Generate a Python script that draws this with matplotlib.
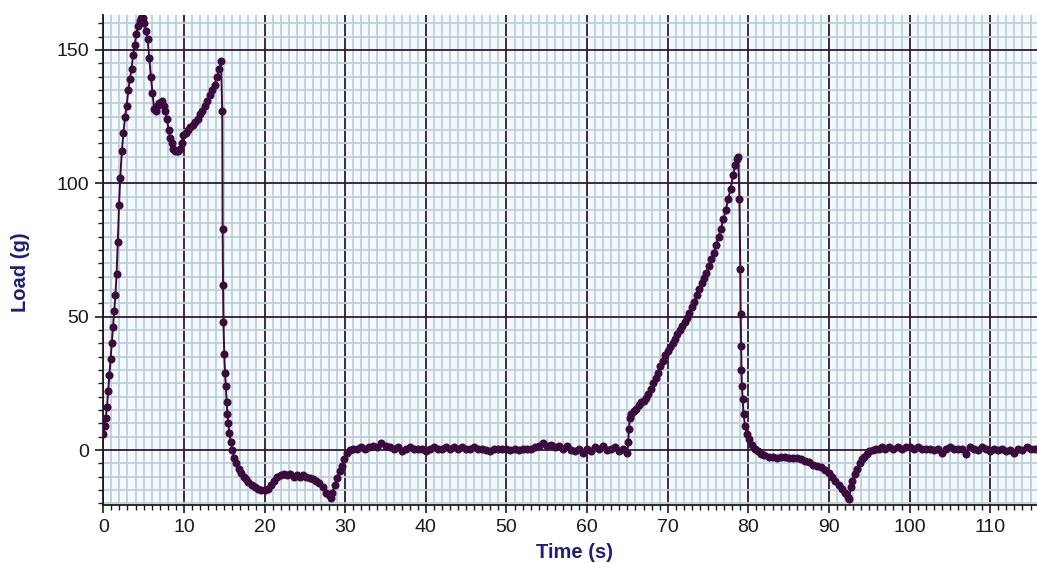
import numpy as np
import matplotlib
matplotlib.use("Agg")
import matplotlib.pyplot as plt
from matplotlib.ticker import MultipleLocator

# first loading: rise, double peak, second peak
rise_t = [0.0, 0.15, 0.3, 0.45, 0.6, 0.75, 0.9, 1.05, 1.2, 1.35, 1.5, 1.65, 1.8, 1.95,
          2.1, 2.3, 2.5, 2.7, 2.9, 3.1, 3.3, 3.5, 3.7, 3.9, 4.1, 4.3, 4.5, 4.7, 4.9,
          5.1, 5.3, 5.5, 5.7, 5.9, 6.1, 6.3, 6.5, 6.7, 6.9, 7.1, 7.3, 7.5, 7.7, 7.9,
          8.1, 8.3, 8.5, 8.7, 8.9, 9.1, 9.3, 9.5, 9.7, 9.9, 10.2, 10.5, 10.8, 11.1,
          11.4, 11.7, 12.0, 12.3, 12.6, 12.9, 13.2, 13.5, 13.8, 14.1, 14.4, 14.6]
rise_y = [6, 9, 12, 16, 22, 28, 34, 40, 46, 52, 58, 66, 78, 92,
          102, 112, 119, 125, 129, 135, 139, 143, 148, 152, 156, 159, 161, 162, 162,
          160, 157, 154, 147, 140, 134, 128, 127, 129, 130, 130, 131, 129, 127, 124,
          120, 117, 115, 113, 112, 112, 112, 113, 115, 118, 119, 120, 121, 122,
          123, 124, 126, 127, 129, 131, 133, 135, 137, 140, 143, 146]

# release and first dip
drop_t = [14.75, 14.8, 14.85, 14.9, 15.0, 15.1, 15.2, 15.3, 15.4, 15.5, 15.65, 15.8,
          16.0, 16.25, 16.5, 16.8, 17.1, 17.4, 17.7, 18.0, 18.4, 18.8, 19.2, 19.6, 20.0,
          20.4, 20.8, 21.2, 21.6, 22.0, 22.4, 22.8, 23.2, 23.6, 24.0, 24.4, 24.8, 25.2,
          25.6, 26.0, 26.4, 26.8, 27.2, 27.6, 28.0, 28.2, 28.4, 28.7, 29.0, 29.3, 29.6,
          29.9, 30.2, 30.6, 31.0]
drop_y = [127, 83, 62, 48, 36, 29, 24, 18, 13.5, 10, 6.5, 3,
          0, -3, -5, -7, -8.5, -10, -11, -12, -13, -14, -14.5, -15, -15,
          -14.5, -13, -11.5, -10, -9.5, -9, -9.5, -9, -10, -9.5, -10, -9.5, -10,
          -10.5, -11, -11.5, -12.5, -14, -16, -17, -18, -16, -13, -10.5, -8, -6,
          -3.5, -1, 0, 0.5]

# resting level between the two loadings (0.5 s samples)
rest_t = np.arange(31.5, 65.01, 0.5)
rest_y = [0.5, 1, 0.5, 1, 1.5, 1, 2.5, 1.5, 1, 0.5, 1, -0.5, 0.5, 1, 0.5, 0.5, 0.5,
          -0.5, 0.5, 1, 0.5, 0.5, 1, 0.5, 1, 0.5, 1, 0.5, 0.5, 1, 0.5, 0.5, 0, -0.5,
          0.5, 0.5, 0.5, 0.5, 0, 0.5, 0, 0.5, 0.5, 0.5, 1, 1.5, 2.5, 1.5, 2, 1, 1.5,
          0.5, 1.5, 0, -0.5, 0.5, -1, 0.5, -0.5, 1, 0.5, 1.5, 0, 0.5, 1, -0.5, 0.5, -1]

# second loading ramp
ramp_t = [65.1, 65.2, 65.3, 65.5, 65.8, 66.1, 66.4, 66.7, 67.0, 67.3, 67.6, 67.9,
          68.2, 68.5, 68.8, 69.1, 69.4, 69.7, 70.0, 70.3, 70.6, 70.9, 71.2, 71.5,
          71.8, 72.1, 72.4, 72.7, 73.0, 73.3, 73.6, 73.9, 74.2, 74.5, 74.8, 75.1,
          75.4, 75.7, 76.0, 76.3, 76.6, 76.9, 77.2, 77.5, 77.8, 78.1, 78.4, 78.6, 78.75]
ramp_y = [3, 8, 12, 13.5, 14.5, 15.5, 17, 18, 18.5, 19.5, 21, 23,
          25, 27, 29, 31.5, 33.5, 35.5, 37, 38.5, 40, 41.5, 43.5, 45,
          46.5, 48, 49.5, 51.5, 53.5, 55.5, 58, 60.5, 62.5, 64.5, 66.5, 69,
          71.5, 74, 77, 80, 83, 86.5, 90, 94, 98, 103, 107, 109, 110]

# release and second dip
drop2_t = [78.9, 79.0, 79.05, 79.1, 79.15, 79.2, 79.3, 79.4, 79.6, 79.8, 80.1, 80.4,
           80.8, 81.2, 81.6, 82.0, 82.5, 83.0, 83.5, 84.0, 84.5, 85.0, 85.5, 86.0,
           86.5, 87.0, 87.5, 88.0, 88.5, 89.0, 89.5, 90.0, 90.4, 90.8, 91.2, 91.6,
           92.0, 92.3, 92.5, 92.7, 92.9, 93.2, 93.5, 93.8, 94.1, 94.4, 94.7, 95.0,
           95.4, 95.8, 96.2, 96.6, 97.0, 97.5]
drop2_y = [94, 68, 51, 39, 30, 24, 19, 13.5, 9, 6, 4, 2,
           0.5, -0.5, -1.5, -2, -2.5, -2.5, -3, -2.5, -2.5, -3, -3, -3,
           -3.5, -4, -4.5, -5.5, -6, -6.5, -7.5, -8.5, -10, -11.5, -13, -14.5,
           -16, -17.5, -18.5, -14, -11.5, -9, -7, -5, -3.5, -2.5, -1.5, -0.5,
           0, 0.5, 0.5, 1, 0.5, 1]

# final resting level
tail_t = np.arange(98.0, 116.01, 0.5)
tail_y = [0.5, 1, 0.5, 1, 1, 0.5, 1, 0.5, 0.5, 0.5, 0, 0.5, -1, 0.5, 1, 0.5, 0.5,
          0.5, -1.5, 1, 0.5, 0, 1, 0.5, -0.5, 0.5, 0, 0.5, -0.5, 0, -1, 0.5, 0, 1,
          0.5, 0.5, 0.5]

time_s = np.concatenate([rise_t, drop_t, rest_t, ramp_t, drop2_t, tail_t])
load_g = np.concatenate([rise_y, drop_y, rest_y, ramp_y, drop2_y, tail_y])

plt.rcParams['font.family'] = ['Liberation Sans', 'DejaVu Sans']

fig = plt.figure(figsize=(10.37, 5.63), dpi=100)
ax = fig.add_axes([103.3 / 1037, 1 - 505 / 563, 1 - 103.3 / 1037, 490 / 563])
ax.set_facecolor('#f3f9fc')

ax.set_xlim(0, 115.8)
ax.set_ylim(-20.6, 163.1)

ax.xaxis.set_major_locator(MultipleLocator(10))
ax.xaxis.set_minor_locator(MultipleLocator(1))
ax.yaxis.set_major_locator(MultipleLocator(50))
ax.yaxis.set_minor_locator(MultipleLocator(5))

ax.grid(which='minor', color='#bcd0db', linewidth=1.3)
ax.grid(which='major', color='#2e1c30', linewidth=1.3)
ax.set_axisbelow(True)

ax.plot(time_s, load_g, color='#3a0b3c', linewidth=1.4, marker='o',
        markersize=5.8, markeredgewidth=0, zorder=3)

for side in ['top', 'right']:
    ax.spines[side].set_visible(False)
for side in ['left', 'bottom']:
    ax.spines[side].set_color('#1a1a1a')
    ax.spines[side].set_linewidth(1.3)

ax.tick_params(which='major', direction='out', length=6, width=1.2, color='#1a1a1a',
               labelsize=14, pad=4, labelcolor='#1a1a1a')
ax.tick_params(which='minor', direction='out', length=3.5, width=1.0, color='#1a1a1a')

fig.text(575 / 1037, 1 - 552 / 563, 'Time (s)', ha='center', va='center',
         fontsize=14.5, fontweight='bold', color='#1d1f7a')
fig.text(21 / 1037, 1 - 272 / 563, 'Load (g)', ha='center', va='center',
         rotation=90, fontsize=14.5, fontweight='bold', color='#1d1f7a')

fig.savefig('out.png', dpi=100)
